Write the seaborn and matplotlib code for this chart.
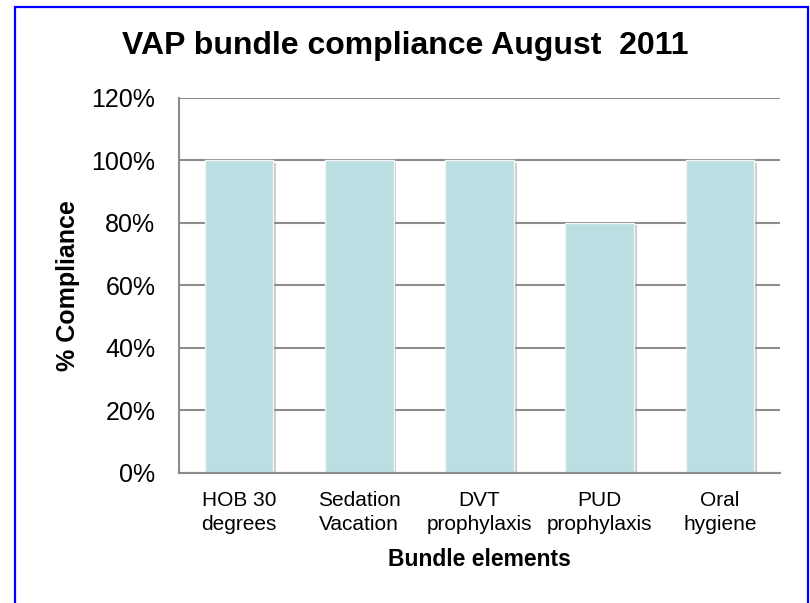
import matplotlib
matplotlib.use("Agg")
import matplotlib.pyplot as plt
import matplotlib.patheffects as pe
from matplotlib.patches import Rectangle
from matplotlib.ticker import PercentFormatter
import seaborn as sns
import pandas as pd

# data
elements = ["HOB 30\ndegrees", "Sedation\nVacation", "DVT\nprophylaxis",
            "PUD\nprophylaxis", "Oral\nhygiene"]
compliance = [100, 100, 100, 80, 100]
y_ticks = [0, 20, 40, 60, 80, 100, 120]

df = pd.DataFrame({"element": elements, "compliance": compliance})

sns.set_theme(style="white")
plt.rcParams["font.family"] = ["Liberation Sans", "DejaVu Sans"]
plt.rcParams["text.color"] = "black"
plt.rcParams["axes.labelcolor"] = "black"

fig = plt.figure(figsize=(8.1, 6.03), dpi=100)
ax = fig.add_axes([0.221, 0.2156, 0.742, 0.622])

grid_col = "#8c8c8c"
bar_col = "#b9dfe2"

ax.set_axisbelow(True)
ax.yaxis.grid(True, color=grid_col, linewidth=1.5)
ax.xaxis.grid(False)

sns.barplot(data=df, x="element", y="compliance", color=bar_col,
            width=0.57, saturation=1, edgecolor="#f4f4f4", linewidth=1, ax=ax)

# soft shadow like the original office chart
for p in ax.patches:
    p.set_path_effects([pe.SimplePatchShadow(offset=(2, -1.5), shadow_rgbFace="#808080", alpha=0.4),
                        pe.Normal()])

ax.set_ylim(0, 120)
ax.set_yticks(y_ticks)
ax.yaxis.set_major_formatter(PercentFormatter(decimals=0))
ax.tick_params(axis="y", labelsize=18, pad=17, length=0, colors="black")
ax.tick_params(axis="x", labelsize=15, pad=13, length=0, colors="black")
for lbl in ax.get_xticklabels():
    lbl.set_linespacing(1.35)

for side in ["top", "right"]:
    ax.spines[side].set_visible(False)
for side in ["left", "bottom"]:
    ax.spines[side].set_color(grid_col)
    ax.spines[side].set_linewidth(1.5)

ax.set_xlabel("Bundle elements", fontsize=16.5, fontweight="bold", labelpad=10, color="black")
ax.set_ylabel("% Compliance", fontsize=18, fontweight="bold", labelpad=8, color="black")
fig.text(0.5, 0.923, "VAP bundle compliance August  2011", ha="center", va="center",
         fontsize=23, fontweight="bold", color="black")

# blue frame around the chart area
fig.patches.append(Rectangle((15 / 810, -0.05), 793 / 810, 1.05 - 7 / 603,
                             transform=fig.transFigure, fill=False,
                             edgecolor="#0000ff", linewidth=1.6))

fig.savefig("out.png", dpi=100)
